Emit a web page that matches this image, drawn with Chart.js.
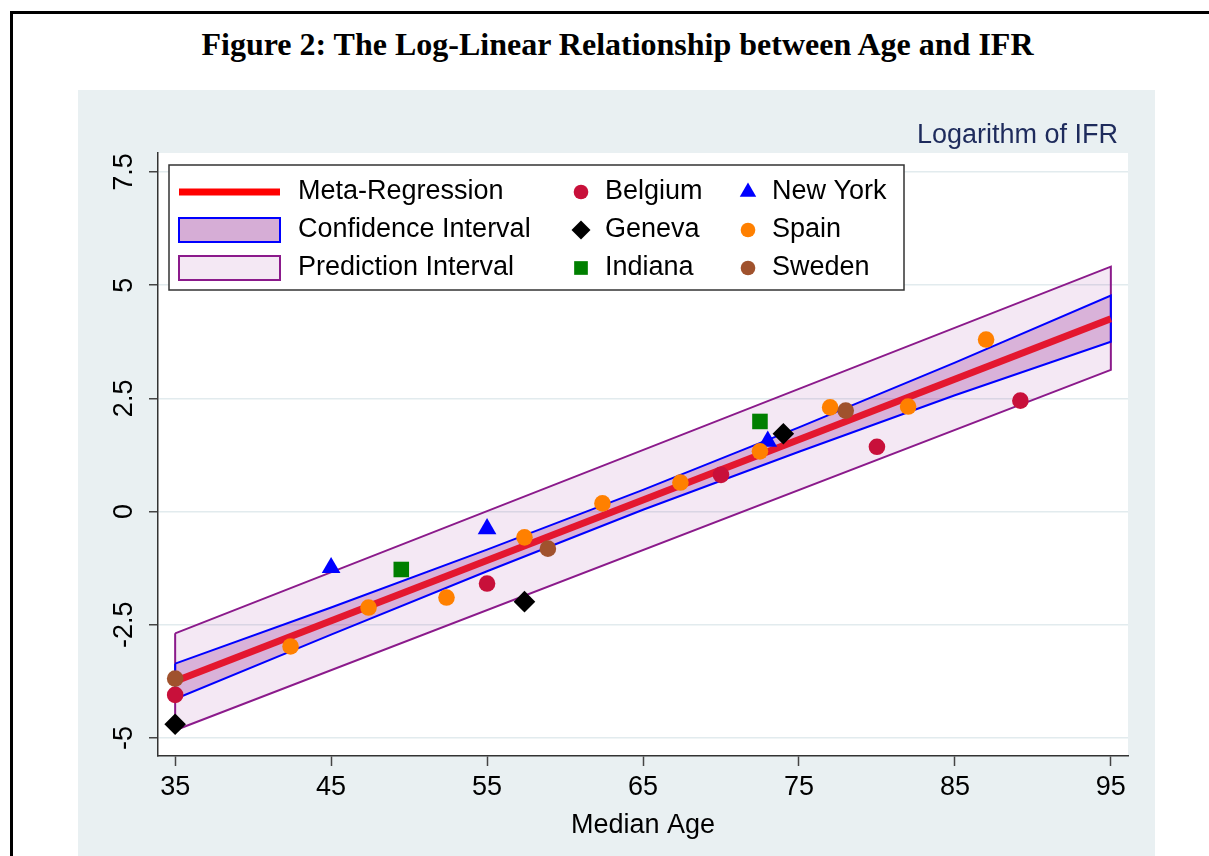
<!DOCTYPE html>
<html>
<head>
<meta charset="utf-8">
<script src="https://cdn.jsdelivr.net/npm/chart.js@4.4.1/dist/chart.umd.min.js"></script>
<style>
body{margin:0;background:#fff;width:1209px;height:856px;overflow:hidden;position:relative;}
#marco{position:absolute;left:10px;top:11px;width:1300px;height:900px;border-left:3px solid #000;border-top:3px solid #000;}
#titulo{position:absolute;left:0;width:1235px;top:26px;text-align:center;font:bold 32px "Liberation Serif","Times New Roman",serif;color:#000;}
#fondo{position:absolute;left:78px;top:90px;width:1077px;height:766px;background:#E9F0F2;}
</style>
</head>
<body>
<div id="marco"></div>
<div id="titulo">Figure 2: The Log-Linear Relationship between Age and IFR</div>
<div id="fondo"><canvas id="grafica" width="1077" height="766"></canvas></div>
<script>
// datos
var edadesBelgica = [35, 55, 70, 80, 89.2];
var ifrBelgica = [-4.05, -1.59, 0.81, 1.43, 2.45];
var edadesGinebra = [35, 57.4, 74];
var ifrGinebra = [-4.7, -1.99, 1.72];
var edadesIndiana = [49.5, 72.5];
var ifrIndiana = [-1.28, 1.99];
var edadesNuevaYork = [45, 55, 73];
var ifrNuevaYork = [-1.24, -0.38, 1.55];
var edadesEspana = [42.4, 47.4, 52.4, 57.4, 62.4, 67.4, 72.5, 77, 82, 87];
var ifrEspana = [-2.98, -2.12, -1.9, -0.57, 0.18, 0.64, 1.33, 2.3, 2.32, 3.8];
var edadesSuecia = [35, 58.9, 78];
var ifrSuecia = [-3.69, -0.82, 2.23];

var edadesRecta = [35, 95];
var metaRegresion = [-3.75, 4.26];
var ipSuperior = [-2.69, 5.41];
var ipInferior = [-4.83, 3.13];
var edadesBanda = [35, 45, 55, 65, 75, 85, 95];
var icSuperior = [-3.36, -2.12, -0.84, 0.48, 1.86, 3.29, 4.77];
var icInferior = [-4.14, -2.72, -1.32, 0.04, 1.32, 2.57, 3.75];

var ticksX = [35, 45, 55, 65, 75, 85, 95];
var ticksY = [-5, -2.5, 0, 2.5, 5, 7.5];
var minX = 33.9, maxX = 96.1;
var minY = -5.4, maxY = 7.92;

function puntos(xs, ys){
    return xs.map(function(x, i){ return {x: x, y: ys[i]}; });
}
// poligono cerrado: borde superior de ida, inferior de vuelta
function poligono(xs, sup, inf){
    var p = puntos(xs, sup);
    for (var i = xs.length - 1; i >= 0; i--) p.push({x: xs[i], y: inf[i]});
    p.push({x: xs[0], y: sup[0]});
    return p;
}

var fuente = '"Liberation Sans", Arial, sans-serif';
var tam = 27;

var series = [
    {nombre: 'Belgium', x: edadesBelgica, y: ifrBelgica, color: '#C8103A', estilo: 'circle', radio: 8.3, orden: 3},
    {nombre: 'Geneva', x: edadesGinebra, y: ifrGinebra, color: '#000000', estilo: 'rectRot', radio: 10.8, orden: 2},
    {nombre: 'Indiana', x: edadesIndiana, y: ifrIndiana, color: '#007F00', estilo: 'rect', radio: 11, orden: 4},
    {nombre: 'New York', x: edadesNuevaYork, y: ifrNuevaYork, color: '#0000FF', estilo: 'triangle', radio: 10.8, orden: 5},
    {nombre: 'Spain', x: edadesEspana, y: ifrEspana, color: '#FF8000', estilo: 'circle', radio: 8.3, orden: 1},
    {nombre: 'Sweden', x: edadesSuecia, y: ifrSuecia, color: '#A0522D', estilo: 'circle', radio: 8.3, orden: 0}
];

var datasets = [];
series.forEach(function(s){
    datasets.push({
        label: s.nombre,
        data: puntos(s.x, s.y),
        pointStyle: s.estilo,
        pointRadius: s.radio,
        pointHoverRadius: s.radio,
        pointBackgroundColor: s.color,
        pointBorderWidth: 0,
        showLine: false,
        order: s.orden
    });
});
datasets.push({
    label: 'Meta-Regression',
    data: puntos(edadesRecta, metaRegresion),
    showLine: true,
    borderColor: '#E4172F',
    borderWidth: 7,
    pointRadius: 0,
    fill: false,
    order: 10
});
datasets.push({
    label: 'Confidence Interval',
    data: poligono(edadesBanda, icSuperior, icInferior),
    showLine: true,
    borderColor: '#0000FF',
    borderWidth: 2,
    backgroundColor: 'rgba(128,0,128,0.23)',
    pointRadius: 0,
    fill: 'shape',
    order: 11
});
datasets.push({
    label: 'Prediction Interval',
    data: poligono(edadesRecta, ipSuperior, ipInferior),
    showLine: true,
    borderColor: '#8B1A8B',
    borderWidth: 2,
    backgroundColor: 'rgba(128,0,128,0.09)',
    pointRadius: 0,
    fill: 'shape',
    order: 12
});

var fondoBlanco = {
    id: 'fondoBlanco',
    beforeDraw: function(chart){
        var a = chart.chartArea, ctx = chart.ctx;
        ctx.save();
        ctx.fillStyle = '#FFFFFF';
        ctx.fillRect(a.left, a.top, a.right - a.left, a.bottom - a.top);
        ctx.restore();
    }
};

var extras = {
    id: 'extras',
    afterDraw: function(chart){
        var ctx = chart.ctx;
        var ejeY = chart.scales.y;
        ctx.save();
        // etiquetas del eje y giradas
        ctx.fillStyle = '#000';
        ctx.font = tam + 'px ' + fuente;
        ctx.textAlign = 'center';
        ctx.textBaseline = 'middle';
        ticksY.forEach(function(v){
            ctx.save();
            ctx.translate(47, ejeY.getPixelForValue(v));
            ctx.rotate(-Math.PI / 2);
            ctx.fillText(String(v), 0, 0);
            ctx.restore();
        });
        // subtitulo
        ctx.fillStyle = '#1E2B5C';
        ctx.textAlign = 'right';
        ctx.fillText('Logarithm of IFR', 1040, 46);

        // leyenda
        ctx.fillStyle = '#FFFFFF';
        ctx.fillRect(91, 75, 735, 125);
        ctx.strokeStyle = '#333333';
        ctx.lineWidth = 1.5;
        ctx.strokeRect(91, 75, 735, 125);
        var filas = [102, 140, 178];
        ctx.fillStyle = '#FF0000';
        ctx.fillRect(101, filas[0] - 3.5, 101, 7);
        ctx.fillStyle = 'rgba(128,0,128,0.32)';
        ctx.fillRect(101, filas[1] - 12, 101, 24);
        ctx.strokeStyle = '#0000FF'; ctx.lineWidth = 2;
        ctx.strokeRect(101, filas[1] - 12, 101, 24);
        ctx.fillStyle = 'rgba(128,0,128,0.09)';
        ctx.fillRect(101, filas[2] - 12, 101, 24);
        ctx.strokeStyle = '#8B1A8B';
        ctx.strokeRect(101, filas[2] - 12, 101, 24);
        ctx.fillStyle = '#000';
        ctx.textAlign = 'left';
        ctx.fillText('Meta-Regression', 220, filas[0]);
        ctx.fillText('Confidence Interval', 220, filas[1]);
        ctx.fillText('Prediction Interval', 220, filas[2]);
        var columnas = [503, 670];
        series.forEach(function(s, i){
            var cx = columnas[Math.floor(i / 3)], cy = filas[i % 3];
            ctx.fillStyle = s.color;
            Chart.helpers.drawPoint(ctx, {pointStyle: s.estilo, radius: s.radio * 0.88, rotation: 0, borderWidth: 0}, cx, cy);
            ctx.fillStyle = '#000';
            ctx.fillText(s.nombre, cx + 24, cy);
        });
        ctx.restore();
    }
};

new Chart(document.getElementById('grafica').getContext('2d'), {
    type: 'scatter',
    data: {datasets: datasets},
    options: {
        responsive: false,
        animation: false,
        devicePixelRatio: 1,
        layout: {padding: {top: 63, right: 27, left: 0, bottom: 0}},
        plugins: {legend: {display: false}, tooltip: {enabled: false}},
        scales: {
            x: {
                type: 'linear', min: minX, max: maxX,
                afterBuildTicks: function(s){ s.ticks = ticksX.map(function(v){ return {value: v}; }); },
                afterFit: function(s){ s.height = 100; },
                grid: {drawOnChartArea: false, tickLength: 10, tickColor: '#444', tickWidth: 1.5},
                border: {color: '#333', width: 1.5},
                ticks: {color: '#000', font: {size: tam, family: fuente}, padding: 5, maxRotation: 0, autoSkip: false},
                title: {display: true, text: 'Median Age', color: '#000', font: {size: tam, family: fuente}, padding: {top: 0, bottom: 14}}
            },
            y: {
                type: 'linear', min: minY, max: maxY,
                afterBuildTicks: function(s){ s.ticks = ticksY.map(function(v){ return {value: v}; }); },
                afterFit: function(s){ s.width = 80; },
                grid: {color: '#E2EBEE', lineWidth: 1.5, tickLength: 9, tickColor: '#444', tickWidth: 1.5},
                border: {color: '#333', width: 1.5},
                ticks: {display: false}
            }
        }
    },
    plugins: [fondoBlanco, extras]
});
</script>
</body>
</html>
